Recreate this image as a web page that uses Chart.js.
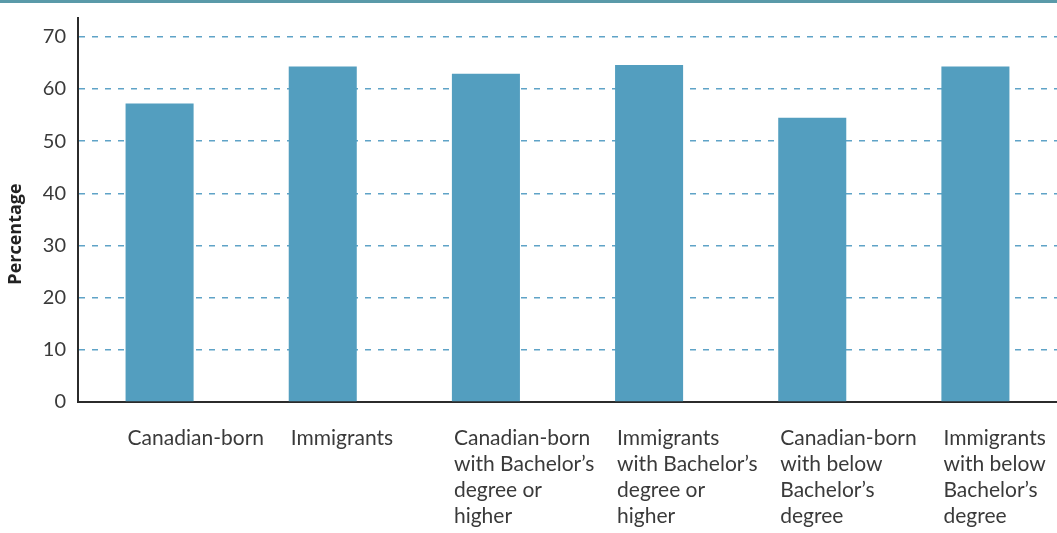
<!DOCTYPE html>
<html>
<head>
<meta charset="utf-8">
<script src="https://cdn.jsdelivr.net/npm/chart.js@4"></script>
<style>
  html, body { margin: 0; padding: 0; background: #ffffff; }
  #wrap { position: relative; width: 1057px; height: 533px; }
  #topline { position: absolute; left: 0; top: 0; width: 1057px; height: 3px; background: #5a9aa9; }
  canvas { display: block; }
</style>
</head>
<body>
<div id="wrap">
  <canvas id="c" width="1057" height="533"></canvas>
  <div id="topline"></div>
</div>
<script>
const categories = [
  ["Canadian-born"],
  ["Immigrants"],
  ["Canadian-born", "with Bachelor\u2019s", "degree or", "higher"],
  ["Immigrants", "with Bachelor\u2019s", "degree or", "higher"],
  ["Canadian-born", "with below", "Bachelor\u2019s", "degree"],
  ["Immigrants", "with below", "Bachelor\u2019s", "degree"]
];
const percentages = [57.2, 64.3, 62.9, 64.6, 54.5, 64.3];
const yTickValues = [0, 10, 20, 30, 40, 50, 60, 70];
const yAxisTitle = "Percentage";

const FONT = "Lato, 'Open Sans', sans-serif";

// y-axis title, drawn as canvas text slightly below the axis centre (as in the reference)
const yTitlePlugin = {
  id: 'yTitle',
  afterDraw(chart) {
    const ctx = chart.ctx;
    const area = chart.chartArea;
    ctx.save();
    ctx.translate(16, (area.top + area.bottom) / 2 + 24);
    ctx.rotate(-Math.PI / 2);
    ctx.font = "bold 18px 'Open Sans', sans-serif";
    ctx.fillStyle = '#222222';
    ctx.textAlign = 'center';
    ctx.textBaseline = 'middle';
    ctx.fillText(yAxisTitle, 0, 0);
    ctx.restore();
  }
};

new Chart(document.getElementById('c'), {
  type: 'bar',
  data: {
    labels: categories,
    datasets: [{
      data: percentages,
      backgroundColor: '#539ebf',
      borderWidth: 0,
      categoryPercentage: 1,
      barPercentage: 0.417
    }]
  },
  plugins: [yTitlePlugin],
  options: {
    responsive: false,
    animation: false,
    layout: { padding: { top: 18, right: 0, left: 0, bottom: 0 } },
    plugins: { legend: { display: false }, tooltip: { enabled: false } },
    scales: {
      x: {
        grid: { display: false, drawTicks: false },
        border: { display: true, color: '#2b2b2b', width: 2 },
        ticks: {
          autoSkip: false, maxRotation: 0, minRotation: 0,
          align: 'start', labelOffset: -32, padding: 23,
          color: '#3a3a3a',
          font: { family: FONT, size: 21, lineHeight: 1.24 }
        },
        afterFit: (s) => { s.height = 131; s.paddingLeft = 0; s.paddingRight = 0; }
      },
      y: {
        min: 0, max: 73.6,
        afterBuildTicks: (s) => { s.ticks = yTickValues.map(v => ({ value: v })); },
        grid: { color: '#5fa3c7', lineWidth: 1.5, drawTicks: false },
        border: { display: true, color: '#2b2b2b', width: 2, dash: [6, 7] },
        ticks: {
          padding: 12, color: '#3a3a3a',
          font: { family: FONT, size: 20 }
        },
        title: { display: false },
        afterFit: (s) => { s.width = 78; s.paddingTop = 0; s.paddingBottom = 0; }
      }
    }
  }
});
</script>
</body>
</html>
